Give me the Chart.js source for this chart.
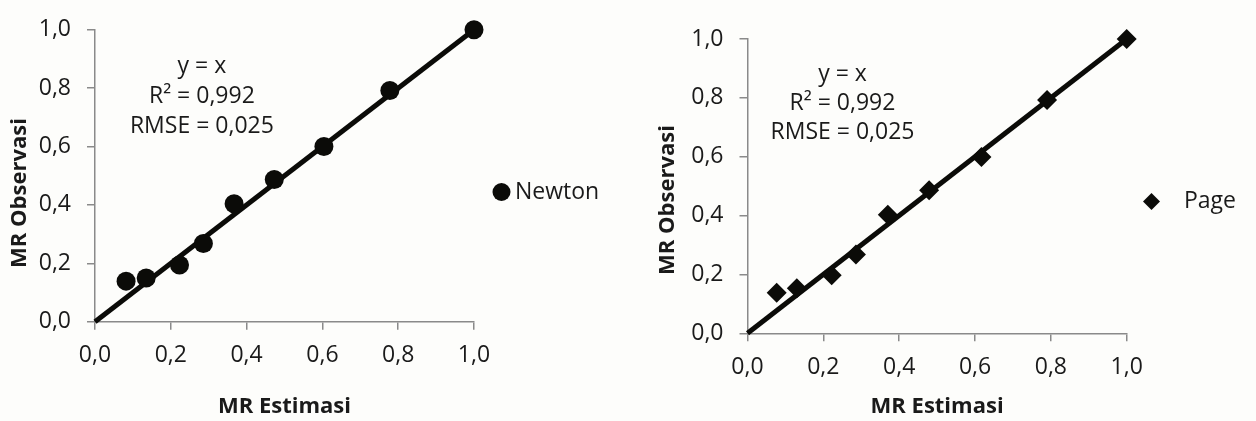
<!DOCTYPE html>
<html>
<head>
<meta charset="utf-8">
<script src="https://cdn.jsdelivr.net/npm/chart.js@4.4.1/dist/chart.umd.min.js"></script>
<style>
html,body{margin:0;padding:0;background:#fdfdfb;}
body{width:1256px;height:421px;position:relative;overflow:hidden;}
canvas{position:absolute;top:0;}
#c1{left:0;}
#c2{left:630px;}
</style>
</head>
<body>
<canvas id="c1" width="620" height="421"></canvas>
<canvas id="c2" width="626" height="421"></canvas>
<script>
// ---- data ----
const tickValues = [0, 0.2, 0.4, 0.6, 0.8, 1.0];
const newtonX = [0.082, 0.135, 0.223, 0.286, 0.367, 0.473, 0.604, 0.778, 1.0];
const newtonY = [0.139, 0.150, 0.194, 0.268, 0.404, 0.487, 0.600, 0.792, 1.0];
const pageX = [0.077, 0.130, 0.222, 0.286, 0.370, 0.479, 0.617, 0.790, 1.0];
const pageY = [0.138, 0.153, 0.197, 0.268, 0.403, 0.486, 0.599, 0.793, 1.0];
const fitX = [0, 1];
const fitY = [0, 1];
const annotationLines = ['y = x', 'R\u00B2 = 0,992', 'RMSE = 0,025'];
const xTitle = 'MR Estimasi';
const yTitle = 'MR Observasi';
const newtonLabel = 'Newton';
const pageLabel = 'Page';

const FONT = "'Open Sans', 'DejaVu Sans', sans-serif";
const AXIS_COLOR = '#8a8a8a';
const TEXT_COLOR = '#1a1a1a';
const MARK_COLOR = '#0b0b08';
const TEXT_SIZE = 23;
const TITLE_SIZE = 22;

function toPoints(xs, ys) { return xs.map((x, i) => ({x: x, y: ys[i]})); }
function fmt(v) { return Number(v).toFixed(1).replace('.', ','); }

function makeChart(canvasId, cfg) {
  const canvas = document.getElementById(canvasId);
  const W = canvas.width, H = canvas.height;
  const area = cfg.area;

  const overlay = {
    id: 'overlay',
    afterDatasetsDraw(chart) {
      const ctx = chart.ctx;
      const xs = chart.scales.x, ys = chart.scales.y;
      ctx.save();
      ctx.fillStyle = TEXT_COLOR;
      ctx.font = TEXT_SIZE + 'px ' + FONT;
      ctx.textAlign = 'center';
      ctx.textBaseline = 'middle';
      const ax = xs.getPixelForValue(cfg.annot.x);
      const ay = ys.getPixelForValue(cfg.annot.y);
      annotationLines.forEach((t, i) => ctx.fillText(t, ax, ay + i * cfg.annot.gap));
      // legend
      const lg = cfg.legend;
      ctx.fillStyle = MARK_COLOR;
      ctx.strokeStyle = MARK_COLOR;
      Chart.helpers.drawPoint(ctx, {pointStyle: cfg.pointStyle, radius: lg.r, rotation: 0, borderWidth: 0}, lg.mx, lg.my);
      ctx.fillStyle = TEXT_COLOR;
      ctx.textAlign = 'left';
      ctx.fillText(cfg.label, lg.tx, lg.my);
      // y axis title
      ctx.save();
      ctx.translate(cfg.yTitle.x, cfg.yTitle.y);
      ctx.rotate(-Math.PI / 2);
      ctx.textAlign = 'center';
      ctx.font = 'bold ' + TITLE_SIZE + 'px ' + FONT;
      ctx.fillText(yTitle, 0, 0);
      ctx.restore();
      ctx.restore();
    }
  };

  return new Chart(canvas, {
    type: 'scatter',
    data: {
      datasets: [
        {
          label: 'fit',
          data: toPoints(fitX, fitY),
          showLine: true,
          borderColor: MARK_COLOR,
          borderWidth: 5,
          pointRadius: 0,
          pointHoverRadius: 0,
          clip: false,
          order: 2
        },
        {
          label: cfg.label,
          data: toPoints(cfg.xs, cfg.ys),
          pointStyle: cfg.pointStyle,
          pointRadius: cfg.radius,
          pointHoverRadius: cfg.radius,
          backgroundColor: MARK_COLOR,
          borderColor: MARK_COLOR,
          borderWidth: 0,
          clip: false,
          order: 1
        }
      ]
    },
    options: {
      responsive: false,
      animation: false,
      devicePixelRatio: 1,
      layout: {padding: {left: 0, top: area.top, right: W - area.right, bottom: 0}},
      plugins: {legend: {display: false}, tooltip: {enabled: false}},
      scales: {
        x: {
          type: 'linear', min: 0, max: 1,
          afterBuildTicks: s => { s.ticks = tickValues.map(v => ({value: v})); },
          afterFit: s => { s.height = H - area.bottom; },
          ticks: {font: {family: FONT, size: TEXT_SIZE}, color: TEXT_COLOR, padding: 12, callback: v => fmt(v), maxRotation: 0, autoSkip: false},
          grid: {drawOnChartArea: false, drawTicks: true, tickLength: 8, color: AXIS_COLOR, lineWidth: 1.5},
          border: {display: true, color: AXIS_COLOR, width: 1.5},
          title: {display: true, text: xTitle, color: TEXT_COLOR, font: {family: FONT, size: TITLE_SIZE, weight: 'bold'}, padding: {top: 1, bottom: 1}}
        },
        y: {
          type: 'linear', min: 0, max: 1,
          afterBuildTicks: s => { s.ticks = tickValues.map(v => ({value: v})); },
          afterFit: s => { s.width = area.left; },
          ticks: {font: {family: FONT, size: TEXT_SIZE}, color: TEXT_COLOR, padding: 16, callback: v => fmt(v), autoSkip: false},
          grid: {drawOnChartArea: false, drawTicks: true, tickLength: 8, color: AXIS_COLOR, lineWidth: 1.5},
          border: {display: true, color: AXIS_COLOR, width: 1.5},
          title: {display: false}
        }
      }
    },
    plugins: [overlay]
  });
}

makeChart('c1', {
  area: {left: 95, right: 474, top: 20, bottom: 321.7},
  xs: newtonX, ys: newtonY, label: newtonLabel,
  pointStyle: 'circle', radius: 9.5,
  annot: {x: 0.282, y: 0.873, gap: 30},
  legend: {mx: 501.5, my: 192, r: 9, tx: 515},
  yTitle: {x: 20, y: 193}
});

makeChart('c2', {
  area: {left: 117.5, right: 496.7, top: 39, bottom: 333.3},
  xs: pageX, ys: pageY, label: pageLabel,
  pointStyle: 'rectRot', radius: 10,
  annot: {x: 0.2505, y: 0.878, gap: 29},
  legend: {mx: 521.5, my: 201.5, r: 8.5, tx: 554},
  yTitle: {x: 38, y: 200}
});
</script>
</body>
</html>
